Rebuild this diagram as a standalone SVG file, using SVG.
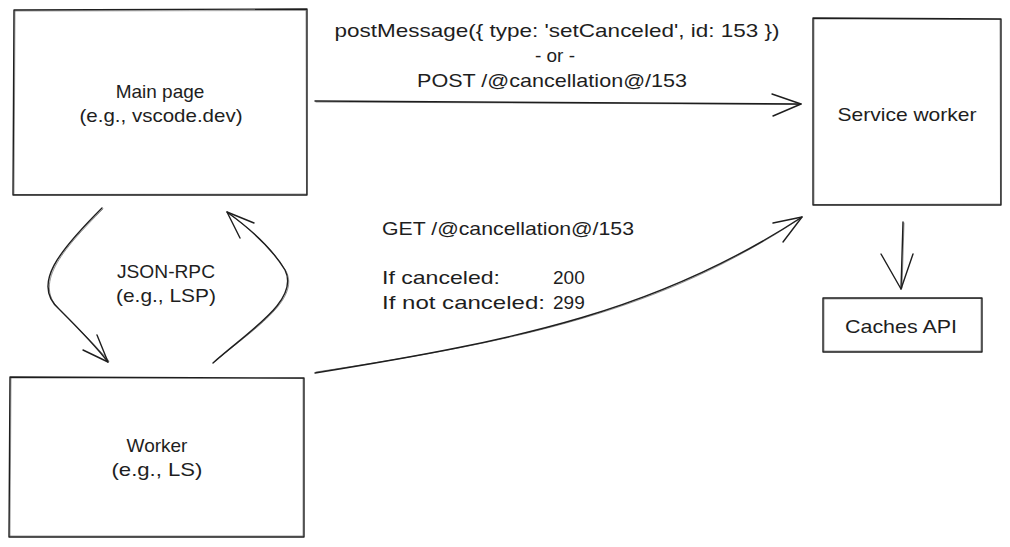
<svg xmlns="http://www.w3.org/2000/svg" width="1010" height="547" viewBox="0 0 1010 547">
<defs>
<style>
.box{fill:none;stroke:#1e1e1e;stroke-width:1.4;stroke-linejoin:round}
.box2{fill:none;stroke:#1e1e1e;stroke-width:0.7;opacity:0.6}
.edge{fill:none;stroke:#1e1e1e;stroke-width:1.4;stroke-linecap:round;stroke-linejoin:round}
.edge2{fill:none;stroke:#1e1e1e;stroke-width:0.7;opacity:0.7;stroke-linecap:round}
text{font-family:"Liberation Sans","DejaVu Sans",sans-serif;font-size:19px;fill:#1e1e1e}
.c{text-anchor:middle}
</style>
</defs>
<rect x="0" y="0" width="1010" height="547" fill="#ffffff"/>
<g id="main-page">
<path class="box" d="M14 10 L307 9 L307 195 L13 195 Z"/>
<path class="box2" d="M15 11 L306 10.5 L306.5 194 L14 194.5 Z"/>
<text class="c" x="160" y="98">Main page</text>
<text class="c" x="161" y="122" textLength="163" lengthAdjust="spacingAndGlyphs">(e.g., vscode.dev)</text>
</g>
<g id="service-worker">
<path class="box" d="M813 18 L1001 19 L1001 205 L813 205 Z"/>
<path class="box2" d="M814 19 L1000 19.5 L1000.5 204 L814 204.5 Z"/>
<text class="c" x="907" y="121" textLength="139" lengthAdjust="spacingAndGlyphs">Service worker</text>
</g>
<g id="caches-api">
<path class="box" d="M823 298 L982 298 L982 352 L823 352 Z"/>
<path class="box2" d="M824 299 L981 298.5 L981 351 L824 351 Z"/>
<text class="c" x="901" y="333" textLength="112" lengthAdjust="spacingAndGlyphs">Caches API</text>
</g>
<g id="worker">
<path class="box" d="M10 377 L304 378 L304 537 L9 537 Z"/>
<path class="box2" d="M11 378 L303 378.5 L303 536 L10 536 Z"/>
<text class="c" x="157" y="452">Worker</text>
<text class="c" x="157" y="476" textLength="91" lengthAdjust="spacingAndGlyphs">(e.g., LS)</text>
</g>
<g id="connectors">
<path class="edge" d="M315 101 Q560 102 801 104"/>
<path class="edge2" d="M316 102 Q560 103 800 104.5"/>
<path class="edge" d="M772 94 L801 104 L773 116"/>
<path class="edge" d="M903 222 Q902 255 901 289"/>
<path class="edge2" d="M904 223 Q903 255 902 288"/>
<path class="edge" d="M881 254 L901 289 L913 254"/>
<path class="edge" d="M102 208 C60 250 30 285 60 310 C80 330 95 345 108 362"/>
<path class="edge2" d="M103 209 C61 251 32 285 61 311 C81 331 96 346 109 361"/>
<path class="edge" d="M83 350 L108 362 L97 335"/>
<path class="edge" d="M213 363 C250 330 300 300 285 270 C270 245 245 225 227 212"/>
<path class="edge2" d="M214 362 C251 331 301 300 286 271 C271 246 246 226 228 213"/>
<path class="edge" d="M254 223 L227 212 L240 238"/>
<path class="edge" d="M315 373 C520 340 660 310 802 217"/>
<path class="edge2" d="M316 372 C521 341 661 311 801 218"/>
<path class="edge" d="M773 223 L802 217 L783 242"/>
</g>
<g id="labels">
<text class="c" x="557" y="37" textLength="445" lengthAdjust="spacingAndGlyphs">postMessage({ type: 'setCanceled', id: 153 })</text>
<text class="c" x="555" y="62">- or -</text>
<text class="c" x="552" y="87" textLength="270" lengthAdjust="spacingAndGlyphs">POST /@cancellation@/153</text>
<text class="c" x="166" y="278" textLength="98" lengthAdjust="spacingAndGlyphs">JSON-RPC</text>
<text class="c" x="166" y="302" textLength="100" lengthAdjust="spacingAndGlyphs">(e.g., LSP)</text>
<text x="382" y="235" textLength="252" lengthAdjust="spacingAndGlyphs">GET /@cancellation@/153</text>
<text x="382" y="284" textLength="118" lengthAdjust="spacingAndGlyphs">If canceled:</text>
<text x="553" y="284">200</text>
<text x="382" y="309" textLength="163" lengthAdjust="spacingAndGlyphs">If not canceled:</text>
<text x="553" y="309">299</text>
</g>
</svg>
